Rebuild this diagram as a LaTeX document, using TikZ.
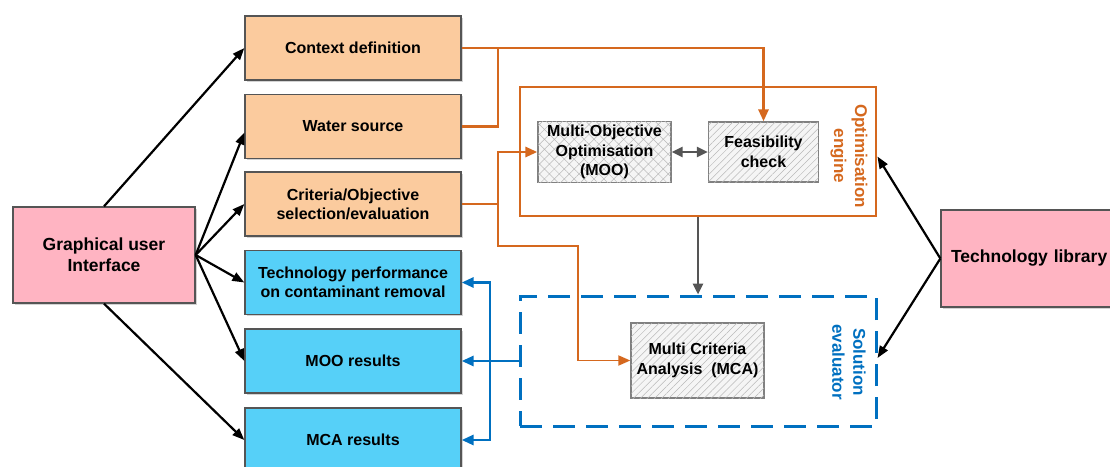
\documentclass[tikz,border=0pt]{standalone}
\usepackage{fontspec}
\setmainfont{Liberation Sans}
\usetikzlibrary{arrows.meta, patterns.meta, shadows}

\definecolor{oline}{RGB}{213,104,30}
\definecolor{bline}{RGB}{0,112,192}
\definecolor{peach}{RGB}{251,203,158}
\definecolor{cyanbox}{RGB}{86,208,248}
\definecolor{pinkbox}{RGB}{255,180,194}
\definecolor{darkline}{RGB}{85,85,85}

\begin{document}
\begin{tikzpicture}[
    x=1pt, y=-1pt,
    box/.style={draw=darkline, line width=1.3pt, fill=#1, align=center,
                font=\bfseries\fontsize{16}{19}\selectfont,
                drop shadow={shadow xshift=1.5pt, shadow yshift=-1.5pt, opacity=0.35}},
    inbox/.style={box=peach, minimum width=216pt, minimum height=64pt},
    outbox/.style={box=cyanbox, minimum width=216pt, minimum height=64pt},
    endbox/.style={box=pinkbox, font=\bfseries\fontsize{17.5}{21}\selectfont},
    hatch/.style={draw=gray, line width=1.3pt, fill=gray!8, align=center,
                  font=\bfseries\fontsize{16}{19.5}\selectfont,
                  postaction={pattern={#1}, pattern color=gray!55}},
    frame/.style={draw=#1, line width=2.8pt, minimum width=356pt, minimum height=129pt},
    side/.style={rotate=-90, align=center, text=#1,
                 font=\bfseries\fontsize{17}{21}\selectfont},
    link/.style={-{Triangle[length=12pt, width=9pt]}, line width=2.2pt, black},
    olink/.style={-{Triangle[length=12pt, width=10pt]}, line width=2.8pt, oline},
    blink/.style={-{Triangle[length=12pt, width=10pt]}, line width=2.8pt, bline},
    glink/.style={-{Triangle[length=11pt, width=10pt]}, line width=2.6pt, darkline},
  ]
    \useasboundingbox (0,0) rectangle (1110,466);

    % End nodes
    \node[endbox, minimum width=182pt, minimum height=96pt] (gui) at (104,255)
        {Graphical user\\Interface};
    \node[endbox, minimum width=178pt, minimum height=97pt, text width=158pt,
          align=left] (techlib) at (1030,258.5) {Technology~library};

    % Input boxes
    \node[inbox] (ctx)   at (353,48)    {Context definition};
    \node[inbox] (water) at (353,126.5) {Water source};
    \node[inbox] (crit)  at (353,204)   {Criteria/Objective\\selection/evaluation};

    % Output boxes
    \node[outbox] (perf)   at (353,282.5) {Technology performance\\on contaminant removal};
    \node[outbox] (moores) at (353,361)   {MOO results};
    \node[outbox] (mcares) at (353,440)   {MCA results};

    % Engine and evaluator
    \node[frame=oline] (optframe) at (698,151.5) {};
    \node[frame=bline, dash pattern=on 22pt off 11pt, line width=3pt,
          minimum height=130pt] (solframe) at (698,361) {};
    \node[side=oline] (optlabel) at (849,156) {Optimisation\\engine};
    \node[side=bline] (sollabel) at (849,362) {Solution\\evaluator};

    \node[hatch={Hatch[angle=45, distance=7pt, line width=0.5pt]},
          minimum width=133pt, minimum height=60pt] (moo) at (604.5,152)
        {Multi-Objective\\Optimisation\\(MOO)};
    \node[hatch={Lines[angle=45, distance=5pt, line width=0.5pt]},
          minimum width=110pt, minimum height=60pt] (feas) at (763.5,152)
        {Feasibility\\check};
    \node[hatch={Lines[angle=45, distance=5pt, line width=0.5pt]},
          minimum width=133pt, minimum height=75pt] (mca) at (697.5,360.5)
        {Multi Criteria\\Analysis~~(MCA)};

    % GUI links
    \draw[link] (gui.north) -- (ctx.west);
    \draw[link] (gui.east)  -- ([yshift=-6pt]water.west);
    \draw[link] (gui.east)  -- (crit.west);
    \draw[link] (gui.east)  -- (perf.west);
    \draw[link] (gui.east)  -- (moores.west);
    \draw[link] (gui.south) -- (mcares.west);

    % Inputs to engine
    \coordinate (oj1) at (498,48);
    \coordinate (oj2) at (498,204);
    \coordinate (oj3) at (578,246);
    \draw[olink] (ctx.east) -| (feas.north);
    \draw[line width=2.8pt, oline] (water.east) -| (oj1);
    \draw[olink] (crit.east) -- (oj2) |- (moo.west);
    \draw[olink, line width=1.8pt] (oj2) |- (oj3) |- (mca.west);

    % Inside the engine
    \draw[glink, {Triangle[length=11pt, width=10pt]}-{Triangle[length=11pt, width=10pt]}]
        (moo.east) -- (feas.west);
    \draw[glink] (optframe.south) -- (solframe.north);

    % Results back to the outputs
    \coordinate (bj) at (490,361);
    \draw[blink] (solframe.west) -- (moores.east);
    \draw[blink] (bj) |- (perf.east);
    \draw[blink] (bj) |- (mcares.east);

    % Technology library
    \draw[link] (techlib.west) -- ([yshift=-5pt]optframe.east);
    \draw[link] (techlib.west) -- ([yshift=3pt]solframe.east);
  \end{tikzpicture}
\end{document}
